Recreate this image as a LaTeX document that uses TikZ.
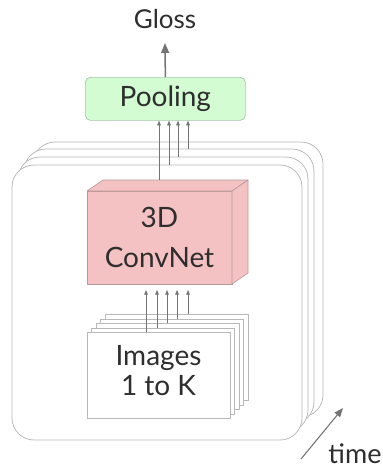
\documentclass[tikz,border=0pt]{standalone}
\usepackage{fontspec}
\setmainfont{Lato}
\usetikzlibrary{arrows.meta}
\definecolor{txt}{HTML}{2E2E2E}
\definecolor{frameline}{HTML}{B8B8B8}
\definecolor{poolfill}{HTML}{D3FCD3}
\definecolor{pooledge}{HTML}{A6C6A6}
\definecolor{convfill}{HTML}{F4C2C2}
\definecolor{convedge}{HTML}{B99898}
\definecolor{arrowgray}{HTML}{747474}
\begin{document}
\begin{tikzpicture}[x=1pt,y=-1pt,
  frame/.style={draw=frameline, fill=white, line width=0.75pt, rounded corners=22pt,
    minimum width=290pt, minimum height=275pt, anchor=north west, inner sep=0pt, outer sep=0pt},
  page/.style={draw=frameline, fill=white, line width=0.7pt,
    minimum width=143pt, minimum height=86pt, anchor=north west, inner sep=0pt, outer sep=0pt},
  feed/.style={draw=arrowgray, line width=0.6pt, -{Triangle[width=3.6pt,length=4.6pt]}},
  bigarrow/.style={draw=arrowgray, line width=1.5pt, -{Triangle[width=8pt,length=10pt]}},
  label/.style={text=txt, inner sep=0pt, outer sep=0pt, font=\fontsize{28}{32}\selectfont},
  convface/.style={fill=convfill, draw=convedge, line width=0.6pt, line join=round},
]
\useasboundingbox (0,0) rectangle (383,469);

% output head
\node[label, anchor=base, font=\fontsize{26}{30}\selectfont] (gloss) at (165,28) {Gloss};
\node[fill=poolfill, draw=pooledge, line width=0.7pt, rounded corners=5pt,
  minimum width=160pt, minimum height=43pt, anchor=north west, inner sep=0pt] (pool) at (85,77) {};
\node[label, anchor=base] (poolt) at (pool.center |- 0,106) {Pooling};
\coordinate (glosstip) at (165,43);
\draw[bigarrow] (pool.north) -- (glosstip);

% stack of time steps, back to front
\node[frame] (f3) at (33,142) {};
\node[frame] (f2) at (24,149) {};
\node[frame] (f1) at (18,157) {};
\node[frame] (f0) at (12,165) {};

% 3D ConvNet block
\node[convface, minimum width=145pt, minimum height=93pt, anchor=north west,
  inner sep=0pt, outer sep=0pt] (conv) at (87,191) {};
\path[convface] (conv.north west) -- ++(16,-11) -- ++(145,0) -- (conv.north east) -- cycle;
\path[convface] (conv.north east) -- ++(16,-11) -- ++(0,93) -- (conv.south east) -- cycle;
\node[label, align=center, font=\fontsize{28}{39.5}\selectfont, anchor=base]
  (convt) at (159.5,267) {3D\\ConvNet};

% frame features into the pooling
\coordinate (convtop) at (159,180);
\draw[feed] (convtop) -- (pool.south -| convtop);
\coordinate (c1) at (169,0);
\coordinate (c2) at (178,0);
\coordinate (c3) at (188,0);
\draw[feed] (f0.north -| c1) -- (pool.south -| c1);
\draw[feed] (f1.north -| c2) -- (pool.south -| c2);
\draw[feed] (f2.north -| c3) -- (pool.south -| c3);

% image pages, back to front
\node[page] (img4) at (105,314) {};
\node[page] (img3) at (100.5,319) {};
\node[page] (img2) at (96,323) {};
\node[page] (img1) at (91.5,328) {};
\node[page] (img0) at (87,332) {};
\node[label, align=center, font=\fontsize{28}{30}\selectfont, anchor=base]
  (imgt) at (158.5,395) {Images\\1 to K};

% images into the ConvNet
\coordinate (d0) at (146,0);
\coordinate (d1) at (157,0);
\coordinate (d2) at (167,0);
\coordinate (d3) at (177,0);
\coordinate (d4) at (188,0);
\draw[feed, shorten >=6pt] (img0.north -| d0) -- (conv.south -| d0);
\draw[feed, shorten >=6pt] (img1.north -| d1) -- (conv.south -| d1);
\draw[feed, shorten >=6pt] (img2.north -| d2) -- (conv.south -| d2);
\draw[feed, shorten >=6pt] (img3.north -| d3) -- (conv.south -| d3);
\draw[feed, shorten >=6pt] (img4.north -| d4) -- (conv.south -| d4);

% time axis
\coordinate (t0) at (301,459);
\coordinate (t1) at (343,408);
\draw[draw=arrowgray, line width=1.1pt, -{Triangle[width=7pt,length=9pt]}] (t0) -- (t1);
\node[label, anchor=base, font=\fontsize{27}{30}\selectfont] (time) at (355,463) {time};
\end{tikzpicture}
\end{document}
